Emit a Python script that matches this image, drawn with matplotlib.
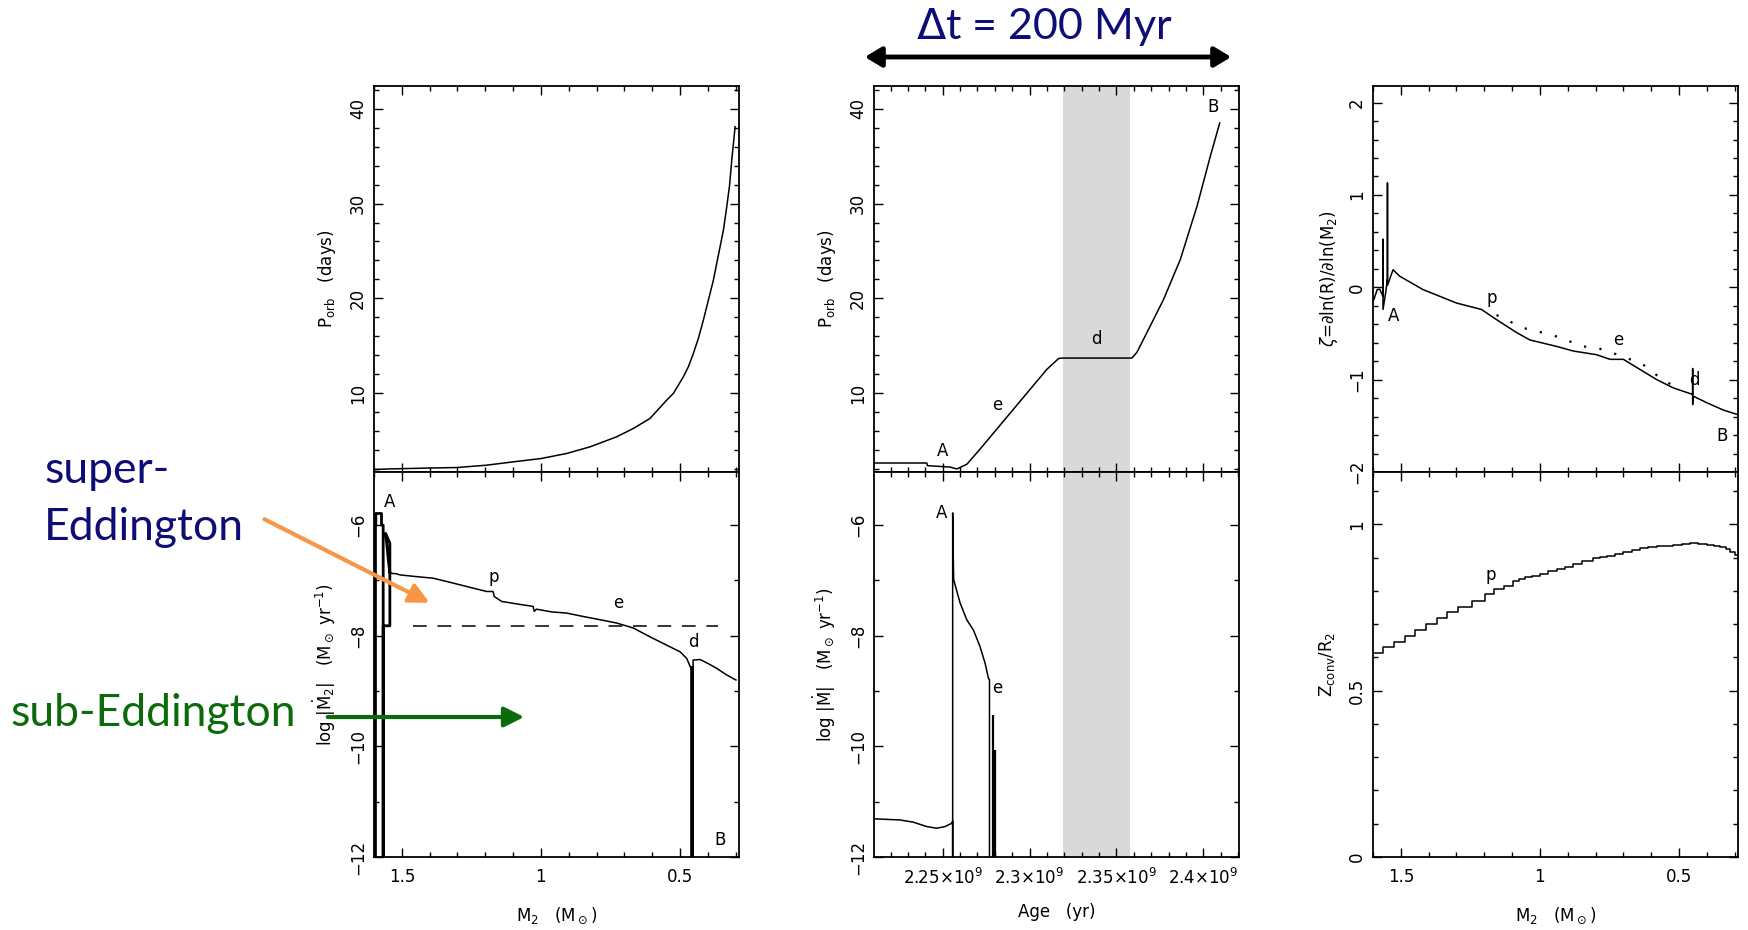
import matplotlib
matplotlib.use('Agg')
import matplotlib.pyplot as plt
from matplotlib.ticker import MultipleLocator

# --- left column: quantities vs donor mass M2 (Msun) ---
m2_porb = [1.597, 1.55, 1.471, 1.40, 1.303, 1.195, 1.0996, 1.0, 0.908, 0.824, 0.728,
           0.668, 0.608, 0.548, 0.524, 0.488, 0.470, 0.452, 0.434, 0.416, 0.398, 0.380,
           0.368, 0.356, 0.344, 0.332, 0.322, 0.314, 0.302]
porb_days = [1.94, 2.0, 2.05, 2.1, 2.15, 2.40, 2.75, 3.10, 3.63, 4.33, 5.39,
             6.27, 7.33, 9.26, 9.97, 11.72, 12.78, 14.19, 15.78, 17.71, 19.82, 21.93,
             23.7, 25.45, 27.2, 29.67, 31.9, 34.6, 38.1]

# onset of mass transfer (spike A) for log|M2dot|
m2_onset = [1.597, 1.597, 1.5935, 1.5935, 1.573, 1.573, 1.567, 1.567, 1.567,
            1.543, 1.543, 1.558, 1.552, 1.547, 1.543]
mdot2_onset = [-12.5, -6.0, -6.0, -5.79, -5.79, -6.0, -6.0, -12.5, -7.82,
               -7.82, -6.33, -6.15, -6.45, -6.70, -6.85]

m2_mdot = [1.543, 1.519, 1.507, 1.45, 1.387, 1.33, 1.267, 1.195, 1.172, 1.168, 1.141,
           1.08, 1.028, 1.024, 1.016, 0.96, 0.908, 0.85, 0.788, 0.728, 0.668, 0.608,
           0.548, 0.5, 0.476, 0.464, 0.458, 0.458, 0.453, 0.453, 0.428, 0.40, 0.368,
           0.332, 0.31, 0.299]
mdot2 = [-6.87, -6.88, -6.90, -6.93, -6.96, -7.03, -7.11, -7.20, -7.20, -7.29, -7.38,
         -7.43, -7.47, -7.56, -7.52, -7.57, -7.59, -7.65, -7.71, -7.77, -7.86, -8.02,
         -8.17, -8.29, -8.41, -8.55, -8.62, -12.5, -12.5, -8.44, -8.43, -8.50, -8.59,
         -8.71, -8.77, -8.80]
eddington_m2 = [1.459, 0.362]
eddington_mdot = -7.82

# --- middle column: quantities vs age (yr) ---
age_porb = [2.2104e9, 2.2408e9, 2.2412e9, 2.2542e9, 2.2581e9, 2.2639e9, 2.2715e9,
            2.2811e9, 2.2907e9, 2.3003e9, 2.3099e9, 2.3167e9, 2.3190e9, 2.3589e9,
            2.3618e9, 2.3676e9, 2.3772e9, 2.3868e9, 2.3964e9, 2.4041e9, 2.4095e9]
porb_age = [2.63, 2.63, 2.35, 2.2, 2.0, 2.5, 4.1, 6.2, 8.3, 10.4, 12.5, 13.65, 13.7,
            13.7, 14.3, 16.4, 19.9, 24.1, 29.7, 35.0, 38.5]

age_mdot = [2.2104e9, 2.2253e9, 2.2330e9, 2.2408e9, 2.2465e9, 2.2513e9, 2.2552e9,
            2.2557e9, 2.2557e9, 2.2557e9, 2.2561e9, 2.2563e9, 2.2600e9, 2.2638e9,
            2.2677e9, 2.2715e9, 2.2744e9, 2.2763e9, 2.2769e9, 2.2769e9]
mdot_age = [-11.31, -11.33, -11.37, -11.45, -11.48, -11.45, -11.39, -11.35, -12.5,
            -5.78, -6.69, -6.99, -7.41, -7.71, -7.90, -8.2, -8.5, -8.77, -8.79, -12.5]
flash_age = [2.2788e9, 2.2794e9, 2.2802e9]
flash_mdot = [-9.43, -10.06, -10.06]
detached_age = (2.319e9, 2.358e9)

# --- right column: zeta and convective-zone depth vs M2 ---
m2_zeta = [1.597, 1.585, 1.576, 1.564, 1.564, 1.564, 1.554, 1.548, 1.548, 1.548, 1.528,
           1.504, 1.42, 1.30, 1.21, 1.156, 1.084, 1.036, 0.94, 0.88, 0.796, 0.748,
           0.70, 0.64, 0.58, 0.52, 0.451, 0.451, 0.451, 0.448, 0.40, 0.34, 0.287]
zeta = [-0.133, -0.025, -0.02, -0.10, 0.52, -0.24, -0.05, 0.10, 1.13, 0.02, 0.19,
        0.12, -0.025, -0.17, -0.24, -0.35, -0.49, -0.57, -0.64, -0.69, -0.73, -0.78,
        -0.78, -0.89, -1.0, -1.09, -1.16, -0.88, -1.27, -1.18, -1.25, -1.33, -1.38]
m2_zeta_alt = [1.156, 1.06, 0.952, 0.844, 0.79, 0.70, 0.628, 0.568, 0.508]
zeta_alt = [-0.30, -0.44, -0.52, -0.64, -0.66, -0.75, -0.84, -0.98, -1.09]

m2_zconv = [1.597, 1.564, 1.526, 1.484, 1.448, 1.410, 1.371, 1.335, 1.295, 1.245,
            1.198, 1.164, 1.130, 1.098, 1.075, 1.055, 1.028, 1.0, 0.97, 0.94, 0.91,
            0.88, 0.85, 0.808, 0.785, 0.76, 0.73, 0.70, 0.67, 0.64, 0.61, 0.58, 0.55,
            0.52, 0.49, 0.46, 0.43, 0.40, 0.375, 0.352, 0.33, 0.316, 0.30, 0.286]
zconv = [0.613, 0.630, 0.647, 0.665, 0.683, 0.701, 0.718, 0.735, 0.752, 0.770,
         0.790, 0.805, 0.815, 0.830, 0.835, 0.840, 0.845, 0.850, 0.858, 0.865, 0.872,
         0.880, 0.890, 0.900, 0.902, 0.905, 0.912, 0.918, 0.923, 0.928, 0.931, 0.935,
         0.936, 0.938, 0.941, 0.943, 0.940, 0.938, 0.935, 0.931, 0.925, 0.918, 0.908,
         0.898]

W, H = 1749, 930
fig = plt.figure(figsize=(W / 100, H / 100), dpi=100)
plt.rcParams['font.family'] = ['DejaVu Sans']
plt.rcParams['mathtext.fontset'] = 'dejavusans'


def panel(x0, y0, x1, y1):
    ax = fig.add_axes([x0 / W, 1 - y1 / H, (x1 - x0) / W, (y1 - y0) / H])
    ax.tick_params(which='both', direction='in', top=True, right=True, labelsize=12)
    ax.tick_params(which='major', length=6.5, width=1)
    ax.tick_params(which='minor', length=3.6, width=1)
    ax.tick_params(axis='y', labelrotation=90, pad=5)
    for s in ax.spines.values():
        s.set_linewidth(1.3)
    return ax


def finish_y(ax):
    for lab in ax.get_yticklabels():
        lab.set_va('center')


line = dict(color='black', lw=1.1)
lab = dict(fontsize=12, ha='center', va='center')
m2_label = r'M$_2$   (M$_\odot$)'

# left column
ax1 = panel(374, 86, 739, 472)
ax1.plot(m2_porb, porb_days, **line)
ax1.set_xlim(1.6, 0.288)
ax1.set_ylim(1.68, 42.4)
ax1.xaxis.set_major_locator(MultipleLocator(0.5))
ax1.xaxis.set_minor_locator(MultipleLocator(0.1))
ax1.yaxis.set_major_locator(MultipleLocator(10))
ax1.yaxis.set_minor_locator(MultipleLocator(2))
ax1.set_xticklabels([])
ax1.set_yticks([10, 20, 30, 40])
ax1.set_ylabel(r'P$_{\rm orb}$   (days)', fontsize=12, labelpad=8)
finish_y(ax1)

ax2 = panel(374, 472, 739, 857)
ax2.plot(m2_onset, mdot2_onset, color='black', lw=2.0)
ax2.plot(m2_mdot, mdot2, **line)
ax2.vlines([m2_onset[0], m2_mdot[26]], -12.5, [mdot2_onset[1], mdot2[25]],
           color='black', lw=2.6)
ax2.hlines(eddington_mdot, *eddington_m2, color='black', lw=1.1,
           linestyles=(0, (9, 7)))
ax2.set_xlim(1.6, 0.288)
ax2.set_ylim(-12, -5.04)
ax2.xaxis.set_major_locator(MultipleLocator(0.5))
ax2.xaxis.set_minor_locator(MultipleLocator(0.1))
ax2.set_xticks([1.5, 1.0, 0.5])
ax2.set_xticklabels(['1.5', '1', '0.5'])
ax2.set_yticks([-12, -10, -8, -6])
ax2.yaxis.set_minor_locator(MultipleLocator(1))
ax2.tick_params(axis='x', pad=8)
ax2.set_ylabel(r'log $|\dot{\rm M}_2|$   (M$_\odot$ yr$^{-1}$)', fontsize=12, labelpad=8)
ax2.set_xlabel(m2_label, fontsize=12, labelpad=14)
for t, x, y in [('A', 1.543, -5.58), ('p', 1.168, -6.93), ('e', 0.722, -7.41),
                ('d', 0.452, -8.11), ('B', 0.357, -11.69)]:
    ax2.text(x, y, t, **lab)
finish_y(ax2)

# middle column
ax3 = panel(874, 86, 1239, 472)
ax3.axvspan(*detached_age, color='#d9d9d9', lw=0, zorder=0)
ax3.plot(age_porb, porb_age, **line)
ax3.set_xlim(2.2104e9, 2.4206e9)
ax3.set_ylim(1.68, 42.4)
ax3.xaxis.set_major_locator(MultipleLocator(0.05e9))
ax3.xaxis.set_minor_locator(MultipleLocator(0.01e9))
ax3.set_xticklabels([])
ax3.set_yticks([10, 20, 30, 40])
ax3.yaxis.set_minor_locator(MultipleLocator(2))
ax3.set_ylabel(r'P$_{\rm orb}$   (days)', fontsize=12, labelpad=8)
for t, x, y in [('A', 2.2496e9, 3.9), ('e', 2.2815e9, 8.8), ('d', 2.3384e9, 15.7),
                ('B', 2.4057e9, 40.2)]:
    ax3.text(x, y, t, **lab)
finish_y(ax3)

ax4 = panel(874, 472, 1239, 857)
ax4.axvspan(*detached_age, color='#d9d9d9', lw=0, zorder=0)
ax4.plot(age_mdot, mdot_age, **line)
ax4.vlines(flash_age, -12.5, flash_mdot, color='black', lw=1.6)
ax4.set_xlim(2.2104e9, 2.4206e9)
ax4.set_ylim(-12, -5.04)
ax4.set_xticks([2.25e9, 2.3e9, 2.35e9, 2.4e9])
ax4.set_xticklabels([r'2.25$\times$10$^9$', r'2.3$\times$10$^9$',
                     r'2.35$\times$10$^9$', r'2.4$\times$10$^9$'])
ax4.xaxis.set_minor_locator(MultipleLocator(0.01e9))
ax4.set_yticks([-12, -10, -8, -6])
ax4.yaxis.set_minor_locator(MultipleLocator(1))
ax4.tick_params(axis='x', pad=8)
ax4.set_ylabel(r'log $|\dot{\rm M}|$   (M$_\odot$ yr$^{-1}$)', fontsize=12, labelpad=8)
ax4.set_xlabel('Age   (yr)', fontsize=12, labelpad=11)
ax4.text(2.2494e9, -5.79, 'A', **lab)
ax4.text(2.2815e9, -8.95, 'e', **lab)
finish_y(ax4)

# right column
ax5 = panel(1373, 86, 1738, 472)
ax5.plot(m2_zeta, zeta, **line)
ax5.plot(m2_zeta_alt, zeta_alt, color='black', lw=1.6, linestyle=(0, (1, 6)))
ax5.set_xlim(1.6, 0.288)
ax5.set_ylim(-2, 2.18)
ax5.xaxis.set_major_locator(MultipleLocator(0.5))
ax5.xaxis.set_minor_locator(MultipleLocator(0.1))
ax5.set_xticklabels([])
ax5.set_yticks([-2, -1, 0, 1, 2])
ax5.yaxis.set_minor_locator(MultipleLocator(0.2))
ax5.set_ylabel(r'$\zeta$=$\partial$ln(R)/$\partial$ln(M$_2$)', fontsize=12, labelpad=6)
for t, x, y in [('A', 1.525, -0.31), ('p', 1.174, -0.12), ('e', 0.718, -0.57),
                ('d', 0.446, -1.0), ('B', 0.347, -1.61)]:
    ax5.text(x, y, t, **lab)
finish_y(ax5)

ax6 = panel(1373, 472, 1738, 857)
ax6.plot(m2_zconv, zconv, drawstyle='steps-post', **line)
ax6.set_xlim(1.6, 0.288)
ax6.set_ylim(0, 1.157)
ax6.set_xticks([1.5, 1.0, 0.5])
ax6.set_xticklabels(['1.5', '1', '0.5'])
ax6.xaxis.set_minor_locator(MultipleLocator(0.1))
ax6.set_yticks([0, 0.5, 1])
ax6.set_yticklabels(['0', '0.5', '1'])
ax6.yaxis.set_minor_locator(MultipleLocator(0.1))
ax6.tick_params(axis='x', pad=8)
ax6.set_ylabel(r'Z$_{\rm conv}$/R$_2$', fontsize=12, labelpad=8)
ax6.set_xlabel(m2_label, fontsize=12, labelpad=14)
ax6.text(1.178, 0.848, 'p', **lab)
finish_y(ax6)

# overlaid annotations
navy = '#0d0d75'
green = '#0b6b0b'
orange = '#f79646'
fig.text(1045 / W, 1 - 27 / H, r'$\Delta$t = 200 Myr', family='Lato', fontsize=31,
         color=navy, ha='center', va='center')
fig.add_artist(matplotlib.patches.FancyArrowPatch(
    (862 / W, 1 - 57 / H), (1234 / W, 1 - 57 / H), transform=fig.transFigure,
    arrowstyle='<|-|>,head_length=10,head_width=6', lw=3.5, color='black'))

fig.text(44 / W, 1 - 470 / H, 'super-', family='Lato', fontsize=32, color=navy,
         ha='left', va='center')
fig.text(44 / W, 1 - 527 / H, 'Eddington', family='Lato', fontsize=32, color=navy,
         ha='left', va='center')
fig.text(10 / W, 1 - 713 / H, 'sub-Eddington', family='Lato', fontsize=32, color=green,
         ha='left', va='center')
fig.add_artist(matplotlib.patches.FancyArrowPatch(
    (262 / W, 1 - 518 / H), (432 / W, 1 - 604 / H), transform=fig.transFigure,
    arrowstyle='-|>,head_length=12,head_width=6', lw=3, color=orange))
fig.add_artist(matplotlib.patches.FancyArrowPatch(
    (325 / W, 1 - 717 / H), (527 / W, 1 - 717 / H), transform=fig.transFigure,
    arrowstyle='-|>,head_length=12,head_width=6', lw=3, color=green))

fig.savefig('out.png', dpi=100)
